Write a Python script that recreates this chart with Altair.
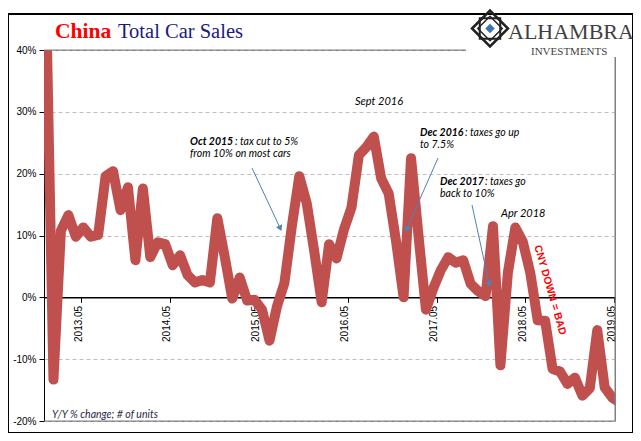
import altair as alt
import pandas as pd

# ---- data ----
months = [f"{y}.{m:02d}" for y in range(2013, 2020) for m in range(1, 13)][:78]  # 2013.01 .. 2019.06
yoy = [49.0, -13.3, 10.8, 13.3, 9.8, 11.3, 9.8, 10.1, 19.6, 20.4,
       14.1, 17.8, 6.0, 17.6, 6.5, 8.9, 8.6, 5.2, 6.8, 3.6,
       2.4, 2.8, 2.4, 12.8, 6.5, -0.2, 3.2, -0.5, -0.4, -2.0,
       -7.0, -1.5, 2.3, 11.5, 19.6, 15.2, 7.5, -0.8, 8.6, 6.3,
       11.0, 14.5, 23.0, 24.3, 26.0, 19.2, 16.8, 9.0, 0.0, 22.5,
       10.0, -2.0, 1.5, 4.4, 6.5, 5.6, 6.0, 2.2, 1.0, 0.2,
       11.5, -11.0, 4.0, 11.3, 9.0, 4.0, -3.7, -3.8, -11.6, -12.0,
       -14.0, -13.0, -15.9, -14.7, -5.3, -14.6, -16.2, -17.0]
tick_labels = ["2013.05", "2014.05", "2015.05", "2016.05", "2017.05", "2018.05", "2019.05"]
y_ticks = [-20, -10, 0, 10, 20, 30, 40]

df = pd.DataFrame({"k": list(range(len(yoy))), "month": months, "v": yoy})

W, H = 571, 371
tick_pos = [4.7 + 11.93 * j for j in range(len(tick_labels))]
label_expr = "[" + ",".join(f"'{t}'" for t in tick_labels) + "][floor(datum.value/12)]"
zero_offset = -H * (0 - (-20)) / 60.0

line = alt.Chart(df).mark_line(
    color="#C0504D", strokeWidth=10, strokeJoin="round", strokeCap="round", clip=True
).encode(
    x=alt.X("k:Q", scale=alt.Scale(domain=[-0.27, 76.38], nice=False, zero=False),
            axis=alt.Axis(values=tick_pos, labelExpr=label_expr, labelAngle=270,
                          labelAlign="right", labelBaseline="alphabetic",
                          offset=zero_offset, domainColor="black", domainWidth=1.5,
                          tickColor="black", tickSize=5, labelFontSize=10,
                          labelFont="Liberation Sans", labelColor="black",
                          labelPadding=3, grid=False, title=None)),
    y=alt.Y("v:Q", scale=alt.Scale(domain=[-20, 40], nice=False, zero=False),
            axis=alt.Axis(values=y_ticks, labelExpr="datum.value + '%'",
                          domainColor="black", tickColor="black", tickSize=5,
                          labelFontSize=10, labelFont="Liberation Sans",
                          labelColor="black", labelPadding=3, grid=True,
                          gridColor="#BFBFBF", gridDash=[4, 3], gridWidth=1,
                          title=None)),
)

layers = []

def rect(x, y, x2, y2, fill=None, stroke=None, sw=1):
    kw = {}
    if fill is not None:
        kw["fill"] = fill
    else:
        kw["fillOpacity"] = 0
    if stroke is not None:
        kw["stroke"] = stroke
        kw["strokeWidth"] = sw
    return alt.Chart(pd.DataFrame({"a": [0]})).mark_rect(**kw).encode(
        x=alt.value(x), x2=alt.value(x2), y=alt.value(y), y2=alt.value(y2))

def text(t, x, y, size=11, color="black", font="Lato", style="normal", weight="normal",
         align="left", baseline="alphabetic", angle=0):
    return alt.Chart(pd.DataFrame({"t": [t]})).mark_text(
        font=font, fontSize=size, color=color, fontStyle=style, fontWeight=weight,
        align=align, baseline=baseline, angle=angle
    ).encode(text="t:N", x=alt.value(x), y=alt.value(y))

def rule(x, y, x2, y2, color="#4F81BD", sw=1):
    return alt.Chart(pd.DataFrame({"a": [0]})).mark_rule(color=color, strokeWidth=sw).encode(
        x=alt.value(x), y=alt.value(y), x2=alt.value(x2), y2=alt.value(y2))

def sym(x, y, shape, size, fill=None, stroke=None, sw=1, angle=0):
    kw = dict(shape=shape, size=size, opacity=1, angle=angle)
    if fill is not None:
        kw.update(filled=True, fill=fill, color=fill)
    else:
        kw.update(filled=False)
    if stroke is not None:
        kw.update(stroke=stroke, strokeWidth=sw)
    else:
        kw.update(strokeWidth=0)
    return alt.Chart(pd.DataFrame({"a": [0]})).mark_point(**kw).encode(
        x=alt.value(x), y=alt.value(y))

# solid gray plot borders (top, bottom, right), over the dashed grid
layers.append(rule(0, 0, W, 0, color="#808080"))
layers.append(rule(0, H, W, H, color="#808080"))
layers.append(rule(W, 0, W, H, color="#808080"))
# outer frame
layers.append(rect(-36, -36, 589, 383, stroke="black", sw=2))
# logo background
layers.append(rect(422, -35, 588, 7, fill="white"))

# title
layers.append(text("China", 11, -12.5, size=21.5, color="#FF0000", font="Liberation Serif", weight="bold"))
layers.append(text("Total Car Sales", 74, -12.5, size=20.5, color="#1A1A80", font="Liberation Serif"))

# logo
layers.append(text("ALHAMBRA", 464, -11, size=22, color="#3F3F3F", font="Liberation Serif"))
layers.append(text("INVESTMENTS", 487, 5, size=11, color="#3F3F3F", font="Liberation Serif"))
layers.append(sym(446, -21.5, "diamond", 1296, stroke="#222222", sw=2.5))
layers.append(sym(446, -21.5, "square", 420, stroke="#222222", sw=2))
layers.append(sym(446, -21.5, "diamond", 600, stroke="#222222", sw=1.5))
layers.append(sym(446, -21.5, "diamond", 90, fill="#3B73B9"))

# annotations
layers.append(text("Y/Y % change; # of units", 8, 368, size=10.5, color="#1F1F3F", style="italic"))
layers.append(text("Sept 2016", 311, 55, size=11, style="italic"))
layers.append(text("Oct 2015", 146, 95, size=10.5, style="italic", weight="bold"))
layers.append(text(": tax cut to 5%", 191, 95, size=10.5, style="italic"))
layers.append(text("from 10% on most cars", 146, 107, size=10.5, style="italic"))
layers.append(text("Dec 2016", 376, 86, size=10.5, style="italic", weight="bold"))
layers.append(text(": taxes go up", 421, 86, size=10.5, style="italic"))
layers.append(text("to 7.5%", 376, 98, size=10.5, style="italic"))
layers.append(text("Dec 2017", 396, 135, size=10.5, style="italic", weight="bold"))
layers.append(text(": taxes go", 441, 135, size=10.5, style="italic"))
layers.append(text("back to 10%", 396, 147, size=10.5, style="italic"))
layers.append(text("Apr 2018", 457, 167, size=11, style="italic"))
layers.append(text("CNY DOWN = BAD", 506, 240, size=10.5, color="#FF0000", font="Liberation Sans",
                   weight="bold", align="center", baseline="middle", angle=74))

# arrows
layers.append(rule(208, 118, 236.3, 178.4))
layers.append(sym(236.3, 178.4, "triangle-up", 45, fill="#4F81BD", angle=155))
layers.append(rule(394, 108, 362.6, 179.3))
layers.append(sym(362.6, 179.3, "triangle-up", 45, fill="#4F81BD", angle=204))
layers.append(rule(428, 155, 445.2, 234.1))
layers.append(sym(445.2, 234.1, "triangle-up", 45, fill="#4F81BD", angle=168))

chart = alt.layer(line, *layers).properties(
    width=W, height=H,
    padding={"left": 36, "top": 42, "right": 18, "bottom": 12},
    autosize="none", background="white",
).configure_view(stroke="#808080", strokeWidth=1)

chart.save("out.html", embed_options={"renderer": "svg", "actions": False})
